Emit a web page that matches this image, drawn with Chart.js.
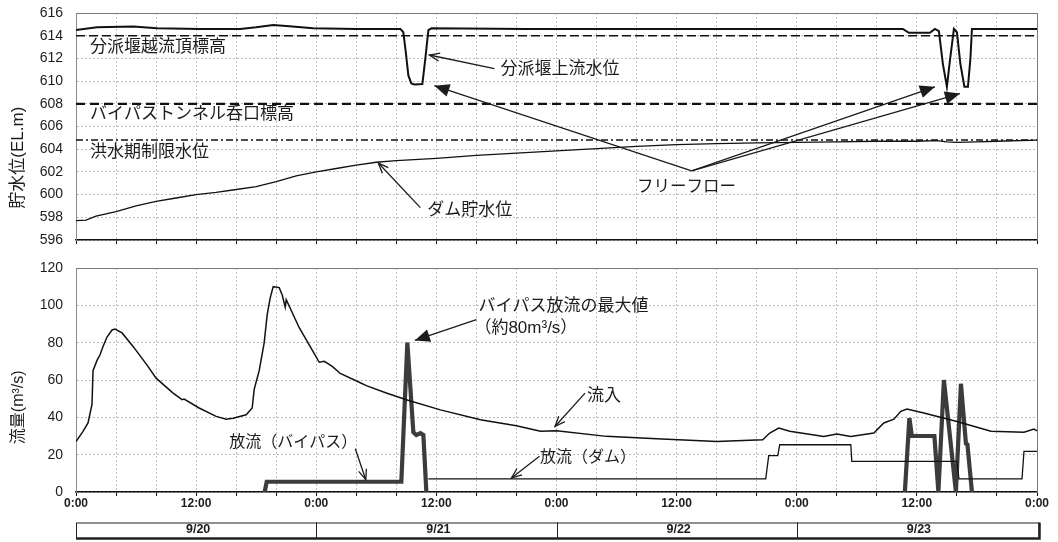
<!DOCTYPE html>
<html>
<head>
<meta charset="utf-8">
<script src="https://cdn.jsdelivr.net/npm/chart.js@4.4.1/dist/chart.umd.min.js"></script>
<style>
  html, body { margin: 0; padding: 0; background: #fff; }
  #wrap { position: relative; width: 1058px; height: 542px; overflow: hidden; background: #fff; }
  canvas { position: absolute; left: 0; }
  #levelChart { top: 0; }
  #flowChart { top: 250px; }
</style>
</head>
<body>
<div id="wrap">
  <canvas id="levelChart" width="1058" height="250"></canvas>
  <canvas id="flowChart" width="1058" height="292"></canvas>
</div>
<script>
// Time axis: hours elapsed since 9/20 0:00 (four days)
const dayLabels = ['9/20', '9/21', '9/22', '9/23'];
const hourLabels = { 0: '0:00', 12: '12:00' };

// ---- Water levels (EL.m) ----
const weirHours = [0, 2.1, 5.7, 8.1, 12.4, 16.4, 18, 19.7, 21, 23.7, 28, 32.4, 32.7, 32.95, 33.2, 33.5, 33.8, 34.6, 34.9, 35.2, 35.5,
  45, 55, 65, 75, 82.6, 83.2, 85.3, 85.8, 86.2, 86.6, 87.0, 87.3, 87.7, 88.0, 88.35, 88.75, 89.1, 89.35, 89.5, 96];
const weirLevel = [614.5, 614.75, 614.8, 614.65, 614.6, 614.6, 614.75, 614.95, 614.85, 614.65, 614.6, 614.6, 614.3, 612.5, 610.5, 609.8, 609.7, 609.75, 612.0, 614.5, 614.65,
  614.6, 614.6, 614.6, 614.6, 614.6, 614.25, 614.25, 614.6, 614.4, 611.5, 609.5, 611.8, 614.6, 614.3, 611.5, 609.5, 609.5, 612.0, 614.6, 614.6];

const damHours = [0, 1, 2, 4, 6, 8, 10, 12, 14, 16, 18, 20, 22, 24, 26, 28, 30, 32, 36, 40, 44, 48, 52, 56, 60, 64, 68, 72, 76, 80, 84, 86, 87, 88, 90, 92, 96];
const damLevel = [597.7, 597.75, 598.1, 598.5, 599.0, 599.4, 599.7, 600.0, 600.2, 600.45, 600.7, 601.15, 601.65, 602.0, 602.3, 602.6, 602.85, 603.0, 603.2, 603.45,
  603.65, 603.85, 604.05, 604.25, 604.4, 604.5, 604.55, 604.6, 604.65, 604.7, 604.7, 604.75, 604.65, 604.6, 604.65, 604.7, 604.8];

// Reference elevations: weir crest, bypass tunnel inlet, flood-season limit
const refLevels = [614.0, 608.0, 604.8];
const refNames = ['分派堰越流頂標高', 'バイパストンネル呑口標高', '洪水期制限水位'];

// ---- Discharges (m3/s) ----
const inflowHours = [0, 0.7, 1.2, 1.6, 1.7, 2.1, 2.4, 2.7, 3.1, 3.6, 3.9, 4.6, 5.7, 7.1, 8.0, 9.7, 10.6, 10.8, 12.3, 14.0, 15.0, 15.7, 17.0, 17.6, 17.8, 18.3, 18.8,
  19.1, 19.4, 19.7, 20.3, 20.6, 20.9, 21.0, 22.3, 23.6, 24.3, 24.8, 25.6, 26.4, 28.4, 29.0, 31, 33, 36.4, 40.4, 44, 46.4, 48, 53, 58, 62.4, 64, 68.6, 69.3,
  70.2, 71.3, 74.7, 76, 77.4, 79.7, 80.7, 81.7, 82.4, 83, 84.7, 88, 91.4, 94.7, 95.7, 96];
const inflow = [27, 32.5, 37, 47, 65, 70.5, 73.5, 78, 83, 86.8, 87.3, 85.2, 78, 68, 61, 53, 49.5, 49.8, 45, 40.5, 39, 39.5, 41.4, 45, 55, 65, 80,
  95, 104, 110, 109.5, 105.5, 99, 103, 88, 76, 69.5, 70, 67.3, 63.5, 58.5, 57, 53, 49.4, 44, 38.7, 35.5, 32.5, 32.8, 29.8, 28.5, 27.5, 27.1, 28, 31.6,
  34.3, 32.5, 29.8, 31, 29.8, 31.6, 37, 39, 43.2, 44.5, 42.3, 37.8, 32.5, 32, 33.7, 32.8];

const damReleaseHours = [35.2, 68.9, 69.2, 70.1, 70.3, 77.4, 77.5, 88.0, 88.2, 94.5, 94.7, 96];
const damRelease = [7, 7, 19.5, 19.5, 25.3, 25.3, 16.4, 16.4, 7, 7, 21.8, 21.8];

const bypassHours = [18.85, 19.05, 32.5, 33.1, 33.7, 34.0, 34.4, 34.7, 35.0, 35.1, 82.8, 83.25, 83.5, 85.75, 86.15, 86.7, 87.9, 88.4, 88.9, 89.05, 89.5];
const bypassRelease = [0, 5.5, 5.5, 80, 32, 30.5, 31.5, 30.5, 0, null, 0, 39.6, 30, 30, 0, 60, 0, 58, 26, 25.5, 0];

const toPoints = (xs, ys) => xs.map((x, i) => ({ x: x, y: ys[i] }));
const flat = (v) => [{ x: 0, y: v }, { x: 96, y: v }];

const FONT = '"Liberation Sans", "Noto Sans CJK JP", sans-serif';
const INK = '#1c1c1c';

function drawArrow(ctx, x1, y1, x2, y2, filled) {
  ctx.beginPath();
  ctx.moveTo(x1, y1);
  ctx.lineTo(x2, y2);
  ctx.stroke();
  const ang = Math.atan2(y2 - y1, x2 - x1);
  const c = Math.cos(ang), s = Math.sin(ang);
  if (filled) {
    const L = 15, W = 6.5;
    ctx.beginPath();
    ctx.moveTo(x2, y2);
    ctx.lineTo(x2 - L * c + W * s, y2 - L * s - W * c);
    ctx.lineTo(x2 - L * c - W * s, y2 - L * s + W * c);
    ctx.closePath();
    ctx.fill();
  } else {
    const L = 11, a = 0.38;
    ctx.beginPath();
    ctx.moveTo(x2 - L * Math.cos(ang - a), y2 - L * Math.sin(ang - a));
    ctx.lineTo(x2, y2);
    ctx.lineTo(x2 - L * Math.cos(ang + a), y2 - L * Math.sin(ang + a));
    ctx.stroke();
  }
}

// Frame, notes, arrows, axis title and the date strip
const notesPlugin = {
  id: 'notes',
  beforeDatasetsDraw(chart) {
    const { ctx, chartArea: a } = chart;
    ctx.save();
    ctx.strokeStyle = '#7a7a7a';
    ctx.lineWidth = 1;
    ctx.beginPath();
    ctx.moveTo(a.left, a.top + 0.5);
    ctx.lineTo(a.right + 0.5, a.top + 0.5);
    ctx.lineTo(a.right + 0.5, a.bottom);
    ctx.stroke();
    ctx.restore();
  },
  afterDraw(chart, args, opts) {
    const { ctx, scales: { x, y } } = chart;
    ctx.save();
    ctx.fillStyle = INK;
    ctx.strokeStyle = INK;
    ctx.textAlign = 'left';
    ctx.textBaseline = 'middle';
    (opts.texts || []).forEach(t => {
      ctx.font = t.size + 'px ' + FONT;
      ctx.fillText(t.text, x.getPixelForValue(t.h), y.getPixelForValue(t.v));
    });
    ctx.lineWidth = 1.3;
    (opts.arrows || []).forEach(ar => {
      drawArrow(ctx, x.getPixelForValue(ar.from[0]), y.getPixelForValue(ar.from[1]),
        x.getPixelForValue(ar.to[0]), y.getPixelForValue(ar.to[1]), ar.filled);
    });
    if (opts.title) {
      ctx.save();
      ctx.translate(opts.title.px, y.getPixelForValue(opts.title.v));
      ctx.rotate(-Math.PI / 2);
      ctx.textAlign = 'center';
      ctx.font = opts.title.size + 'px ' + FONT;
      ctx.fillText(opts.title.text, 0, 0);
      ctx.restore();
    }
    if (opts.days) {
      const b = chart.chartArea.bottom;
      const top = b + 30.5, bot = b + 46;
      const x0 = x.getPixelForValue(0), x1 = x.getPixelForValue(96) + 1.5;
      ctx.lineWidth = 1;
      ctx.strokeStyle = '#222';
      ctx.strokeRect(x0 + 0.5, top + 0.5, x1 - x0, bot - top);
      ctx.lineWidth = 2.5;
      ctx.beginPath();
      ctx.moveTo(x0, bot + 0.5);
      ctx.lineTo(x1 + 1, bot + 0.5);
      ctx.lineTo(x1 + 1, top);
      ctx.stroke();
      ctx.lineWidth = 1;
      ctx.font = 'bold 12.5px ' + FONT;
      ctx.textAlign = 'center';
      dayLabels.forEach((d, i) => {
        if (i > 0) {
          const xp = Math.round(x.getPixelForValue(i * 24)) + 0.5;
          ctx.beginPath();
          ctx.moveTo(xp, top);
          ctx.lineTo(xp, bot);
          ctx.stroke();
        }
        ctx.fillText(d, x.getPixelForValue(i * 24 + 12) + 2, (top + bot) / 2 - 0.5);
      });
    }
    ctx.restore();
  }
};

function timeAxis(height, showLabels) {
  return {
    type: 'linear', min: 0, max: 96,
    afterFit: s => { s.height = height; },
    ticks: {
      stepSize: 4, autoSkip: false, maxRotation: 0, minRotation: 0, maxTicksLimit: 100,
      padding: 0, color: INK,
      font: { family: FONT, size: 12, weight: 'bold' },
      callback: v => showLabels ? (hourLabels[v % 24] || '') : ''
    },
    grid: { color: '#bdbdbd', lineWidth: 1, tickLength: 4, tickColor: '#111', tickWidth: 1, tickBorderDash: [] },
    border: { color: '#111', width: 1.5, dash: [2, 2] }
  };
}

// Value axis: an invisible tick mark spaces the labels away from the plot
function valueAxis(min, max, step) {
  return {
    min: min, max: max,
    afterFit: s => { s.width = 76; },
    ticks: { stepSize: step, padding: 1, color: INK, font: { family: FONT, size: 14 } },
    grid: { color: '#bdbdbd', lineWidth: 1, drawTicks: true, tickLength: 12, tickColor: 'rgba(0,0,0,0)' },
    border: { color: '#8a8a8a', width: 1, dash: [2, 2] }
  };
}

const line = (data, color, width, dash) => ({
  data: data, borderColor: color, borderWidth: width, borderDash: dash || [],
  pointRadius: 0, tension: 0, fill: false, spanGaps: false
});

// Upper panel: reservoir and diversion weir water levels
new Chart(document.getElementById('levelChart'), {
  type: 'line',
  data: {
    datasets: [
      line(flat(refLevels[0]), '#111', 1.5, [9, 4]),
      line(flat(refLevels[1]), '#111', 2.2, [9, 5]),
      line(flat(refLevels[2]), '#111', 1.5, [7, 3, 2, 3]),
      line(toPoints(damHours, damLevel), '#111', 1.3),
      line(toPoints(weirHours, weirLevel), '#111', 2)
    ]
  },
  options: {
    responsive: false, animation: false, devicePixelRatio: 1,
    layout: { padding: { left: 0, right: 21, top: 13, bottom: 0 } },
    plugins: {
      legend: { display: false }, tooltip: { enabled: false },
      notes: {
        texts: [
          { text: refNames[0], h: 1.4, v: 612.94, size: 17 },
          { text: refNames[1], h: 1.4, v: 607.04, size: 17 },
          { text: refNames[2], h: 1.4, v: 603.7, size: 17 },
          { text: '分派堰上流水位', h: 42.4, v: 611.0, size: 17 },
          { text: 'ダム貯水位', h: 35.1, v: 598.6, size: 17 },
          { text: 'フリーフロー', h: 56.05, v: 600.6, size: 16.5 }
        ],
        arrows: [
          { from: [41.8, 611.1], to: [35.3, 612.3] },
          { from: [34.4, 598.85], to: [30.2, 602.78] },
          { from: [61.5, 602.1], to: [35.8, 609.6], filled: true },
          { from: [61.5, 602.1], to: [85.8, 609.5], filled: true },
          { from: [61.5, 602.1], to: [88.3, 608.9], filled: true }
        ],
        title: { text: '貯水位(EL.m)', px: 18, v: 603.25, size: 17 }
      }
    },
    scales: { x: timeAxis(10, false), y: valueAxis(596, 616, 2) }
  },
  plugins: [notesPlugin]
});

// Lower panel: inflow and releases (bypass drawn as a grey band with dark edges)
new Chart(document.getElementById('flowChart'), {
  type: 'line',
  data: {
    datasets: [
      line(toPoints(inflowHours, inflow), '#111', 1.5),
      line(toPoints(damReleaseHours, damRelease), '#111', 1.3),
      line(toPoints(bypassHours, bypassRelease), '#3c3c3c', 4.2),
      line(toPoints(bypassHours, bypassRelease), '#bcbcbc', 2.4)
    ]
  },
  options: {
    responsive: false, animation: false, devicePixelRatio: 1,
    layout: { padding: { left: 0, right: 21, top: 18, bottom: 0 } },
    plugins: {
      legend: { display: false }, tooltip: { enabled: false },
      notes: {
        texts: [
          { text: '放流（バイパス）', h: 15.3, v: 26.4, size: 16 },
          { text: 'バイパス放流の最大値', h: 40.2, v: 99.4, size: 17 },
          { text: '（約80m³/s）', h: 39.8, v: 87.8, size: 17 },
          { text: '流入', h: 51.05, v: 51.2, size: 17 },
          { text: '放流（ダム）', h: 46.35, v: 18.2, size: 16 }
        ],
        arrows: [
          { from: [27.9, 23.2], to: [28.95, 6.6] },
          { from: [40.0, 92.3], to: [33.85, 81.2], filled: true },
          { from: [50.85, 53.0], to: [47.85, 35.1] },
          { from: [46.3, 19.1], to: [43.5, 7.5] }
        ],
        title: { text: '流量(m³/s)', px: 19, v: 45.4, size: 16 },
        days: true
      }
    },
    scales: { x: timeAxis(50, true), y: valueAxis(0, 120, 20) }
  },
  plugins: [notesPlugin]
});
</script>
</body>
</html>
